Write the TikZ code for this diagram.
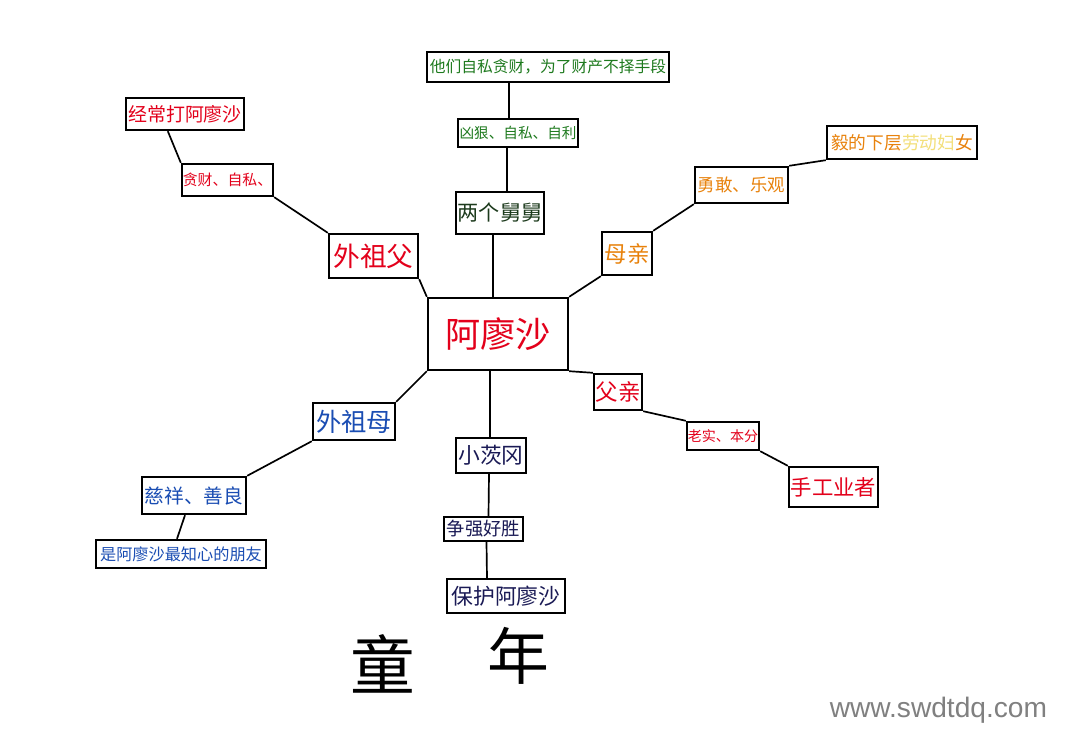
\documentclass[tikz,border=0pt]{standalone}
\usepackage{fontspec}
\newfontfamily\cjk{Noto Sans CJK SC}
\newfontfamily\wmfont{Liberation Sans}
\usetikzlibrary{calc}
\newcommand\fsz[1]{\fontsize{#1}{#1}\selectfont}
\definecolor{tred}{HTML}{E3001B}
\definecolor{tgreen}{HTML}{1E7A1E}
\definecolor{tdkgreen}{HTML}{1C3A1C}
\definecolor{torange}{HTML}{E8820C}
\definecolor{tpale}{HTML}{F3DF7A}
\definecolor{tblue}{HTML}{1A4DB3}
\definecolor{tnavy}{HTML}{1A1A55}
\tikzset{
  box/.style={draw, line width=1.7pt, inner sep=0pt, font=\cjk},
  link/.style={line width=1.2pt}
}

\begin{document}
\begin{tikzpicture}[x=0.025cm, y=-0.025cm]
  \fill[white] (0,0) rectangle (1080,754);
  \useasboundingbox (0,0) rectangle (1080,754);
  % centre
  \node[box, text=tred, minimum width=140*0.025cm, minimum height=72*0.025cm, font=\cjk\fsz{25}] (axs) at (498,334) {阿廖沙};
  % two uncles
  \node[box, text=tdkgreen, minimum width=88*0.025cm, minimum height=42*0.025cm, font=\cjk\fsz{15}] (ljj) at (500,213) {两个舅舅};
  \node[box, text=tgreen, minimum width=120*0.025cm, minimum height=28*0.025cm, font=\cjk\fsz{10.4}] (xh) at (518,133) {凶狠、自私、自利};
  \node[box, text=tgreen, minimum width=242*0.025cm, minimum height=30*0.025cm, font=\cjk\fsz{11.2}] (tm) at (548,67) {他们自私贪财，为了财产不择手段};
  % grandfather
  \node[box, text=tred, minimum width=89*0.025cm, minimum height=44*0.025cm, font=\cjk\fsz{19}] (wzf) at (373.5,256) {外祖父};
  \node[box, text=tred, minimum width=91*0.025cm, minimum height=32*0.025cm, font=\cjk\fsz{10.6}] (tc) at (227.5,180) {贪财、自私、};
  \node[box, text=tred, minimum width=118*0.025cm, minimum height=32*0.025cm, font=\cjk\fsz{13.5}] (jc) at (185,114) {经常打阿廖沙};
  % mother
  \node[box, text=torange, minimum width=50*0.025cm, minimum height=43*0.025cm, font=\cjk\fsz{16}] (mq) at (627,253.5) {母亲};
  \node[box, text=torange, minimum width=93*0.025cm, minimum height=36*0.025cm, font=\cjk\fsz{12.4}] (yg) at (741.5,185) {勇敢、乐观};
  \node[box, text=torange, minimum width=150*0.025cm, minimum height=33*0.025cm, font=\cjk\fsz{12.6}] (yd) at (902,142.5) {毅的下层\textcolor{tpale}{劳动妇}女};
  % father
  \node[box, text=tred, minimum width=48*0.025cm, minimum height=36*0.025cm, font=\cjk\fsz{16}] (fq) at (618,392) {父亲};
  \node[box, text=tred, minimum width=72*0.025cm, minimum height=28*0.025cm, font=\cjk\fsz{10}] (ls) at (723,436) {老实、本分};
  \node[box, text=tred, minimum width=89*0.025cm, minimum height=40*0.025cm, font=\cjk\fsz{15.2}] (sg) at (833.5,487) {手工业者};
  % grandmother
  \node[box, text=tblue, minimum width=82*0.025cm, minimum height=37*0.025cm, font=\cjk\fsz{18}] (wzm) at (354,421.5) {外祖母};
  \node[box, text=tblue, minimum width=104*0.025cm, minimum height=37*0.025cm, font=\cjk\fsz{14}] (cx) at (194,495.5) {慈祥、善良};
  \node[box, text=tblue, minimum width=170*0.025cm, minimum height=28*0.025cm, font=\cjk\fsz{11.5}] (sa) at (181,554) {是阿廖沙最知心的朋友};
  % gypsy
  \node[box, text=tnavy, minimum width=70*0.025cm, minimum height=35*0.025cm, font=\cjk\fsz{15.5}] (xc) at (491,455.5) {小茨冈};
  \node[box, text=tnavy, minimum width=79*0.025cm, minimum height=24*0.025cm, font=\cjk\fsz{13}] (zq) at (483.5,529) {争强好胜};
  \node[box, text=tnavy, minimum width=118*0.025cm, minimum height=34*0.025cm, font=\cjk\fsz{15.5}] (bh) at (506,596) {保护阿廖沙};
  % title
  \node[font=\cjk\fsz{46}] (t1) at (383,664) {童};
  \node[font=\cjk\fsz{44}] (t2) at (518,656) {年};
  \node[anchor=east, text=gray, font=\wmfont\fsz{20}] (wm) at (1052,710) {www.swdtdq.com};
  % links
  \draw[link] ($(tm.south)+(-39,0)$) -- ($(xh.north)+(-9,0)$);
  \draw[link] ($(xh.south)+(-11,0)$) -- ($(ljj.north)+(7,0)$);
  \draw[link] ($(ljj.south)+(-7,0)$) -- ($(axs.north)+(-5,0)$);
  \draw[link] (axs.north west) -- (wzf.south east);
  \draw[link] (wzf.north west) -- (tc.south east);
  \draw[link] (tc.north west) -- (jc.225);
  \draw[link] (axs.north east) -- (mq.south west);
  \draw[link] (mq.north east) -- (yg.south west);
  \draw[link] (yg.north east) -- (yd.south west);
  \draw[link] (axs.south east) -- (fq.north west);
  \draw[link] (fq.south east) -- (ls.north west);
  \draw[link] (ls.south east) -- (sg.north west);
  \draw[link] (axs.south west) -- (wzm.north east);
  \draw[link] (wzm.south west) -- (cx.north east);
  \draw[link] ($(cx.south)+(-9,0)$) -- ($(sa.north)+(-4,0)$);
  \draw[link] ($(axs.south)+(-8,0)$) -- ($(xc.north)+(-1,0)$);
  \draw[link] ($(xc.south)+(-2,0)$) -- ($(zq.north)+(5,0)$);
  \draw[link] ($(zq.south)+(3,0)$) -- ($(bh.north)+(-19,0)$);
\end{tikzpicture}
\end{document}
